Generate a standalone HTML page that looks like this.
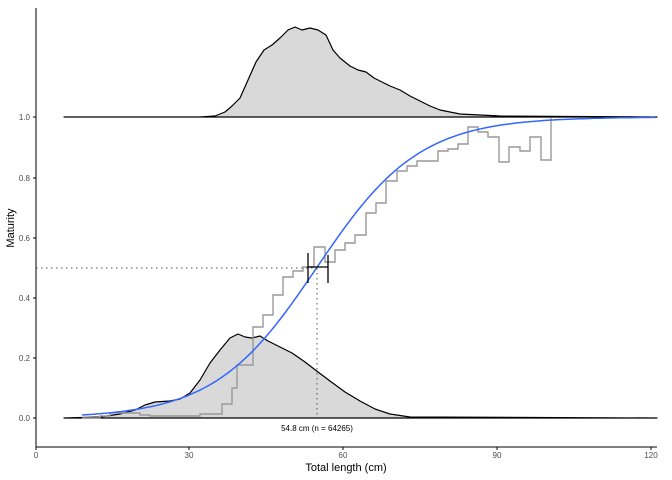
<!DOCTYPE html><html><head><style>body{margin:0;background:#fff}svg{display:block}text{font-family:"Liberation Sans",sans-serif}</style></head><body>
<svg width="672" height="480" viewBox="0 0 672 480">
<path d="M64,117 L200,117 L215,116 L225,112 L232,106 L240,98 L248,80 L256,62 L264,50 L272,45 L280,38 L288,30 L295,27 L302,30 L310,28 L318,30 L326,35 L333,50 L340,58 L350,66 L358,70 L366,72 L374,78 L382,82 L390,86 L400,90 L410,96 L420,101 L430,106 L440,110 L460,114 L500,116 L657,117 Z" fill="#d9d9d9" stroke="#000" stroke-width="1.2" stroke-linejoin="round"/>
<path d="M64,418 L100,417 L120,414 L135,410 L145,405 L155,402 L170,401 L180,399 L190,393 L200,380 L210,363 L220,350 L230,338 L238,334 L245,337 L252,338 L260,336 L268,341 L280,347 L292,353 L305,362 L318,372 L330,381 L345,392 L360,401 L375,409 L390,414 L410,417 L657,418 Z" fill="#d9d9d9" stroke="#000" stroke-width="1.2" stroke-linejoin="round"/>
<path fill="none" stroke="#999" stroke-width="1.4" d="M82,418 H100 V416 H110 V413 H140 V415 H150 V416 H200 V414 H222 V413 V404 H232 V388 H237 V365 H243 V365 H253 V327 H263 V315 H273 V295 H283 V277 H293 V271 H303 V267 H314 V247 H325 V262 H335 V250 H345 V243 H355 V235 H366 V213 H376 V203 H386 V181 H397 V171 H407 V166 H417 V161 H438 V151 H448 V149 H458 V144 H468 V127 H478 V132 H488 V137 H499 V162 H509 V147 H520 V151 H530 V137 H541 V160 H551 V118"/>
<path id="curve" fill="none" stroke="#3366ff" stroke-width="1.5" d=""/>
<line x1="36" y1="268" x2="317" y2="268" stroke="#555" stroke-dasharray="1.5,3.5"/>
<line x1="317" y1="268" x2="317" y2="418" stroke="#555" stroke-dasharray="1.5,3.5"/>
<g stroke="#000" stroke-width="1.3"><line x1="308" y1="267" x2="328" y2="267"/><line x1="308" y1="253" x2="308" y2="283"/><line x1="328" y1="255" x2="328" y2="283"/></g>
<text x="317" y="431" font-size="8" text-anchor="middle">54.8 cm (n = 64265)</text>
<g stroke="#000" stroke-width="1"><line x1="36" y1="8" x2="36" y2="447"/><line x1="36" y1="447" x2="657" y2="447"/>
<line x1="33" y1="418" x2="36" y2="418"/><line x1="33" y1="358" x2="36" y2="358"/><line x1="33" y1="298" x2="36" y2="298"/><line x1="33" y1="238" x2="36" y2="238"/><line x1="33" y1="178" x2="36" y2="178"/><line x1="33" y1="117" x2="36" y2="117"/>
<line x1="36" y1="447" x2="36" y2="450"/><line x1="189" y1="447" x2="189" y2="450"/><line x1="343" y1="447" x2="343" y2="450"/><line x1="497" y1="447" x2="497" y2="450"/><line x1="651" y1="447" x2="651" y2="450"/></g>
<g font-size="8" fill="#4d4d4d" text-anchor="end"><text x="30" y="421">0.0</text><text x="30" y="361">0.2</text><text x="30" y="301">0.4</text><text x="30" y="241">0.6</text><text x="30" y="181">0.8</text><text x="30" y="120">1.0</text></g>
<g font-size="8" fill="#4d4d4d" text-anchor="middle"><text x="36" y="458">0</text><text x="189" y="458">30</text><text x="343" y="458">60</text><text x="497" y="458">90</text><text x="651" y="458">120</text></g>
<text x="346" y="471" font-size="11" text-anchor="middle">Total length (cm)</text>
<text transform="translate(14,228) rotate(-90)" font-size="11" text-anchor="middle">Maturity</text>
</svg>
<script>
var d="";for(var x=82;x<=657;x+=3){var c=(x-36)/5.125;var p=1/(1+Math.exp(-0.1*(c-54.8)));d+=(d?"L":"M")+x+","+(418-p*301).toFixed(1);}
document.getElementById("curve").setAttribute("d",d);
</script>
</body></html>
